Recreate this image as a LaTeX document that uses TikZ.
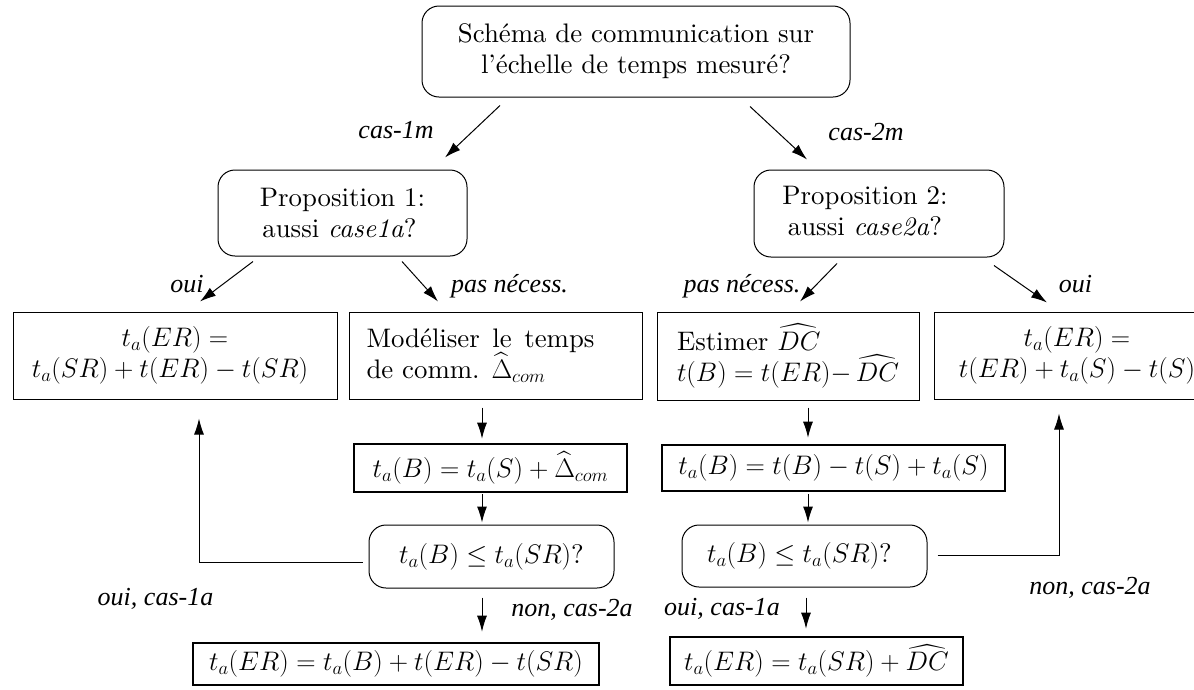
\RequirePackage{fix-cm}
\documentclass[tikz,border=0pt]{standalone}
\usepackage{amsmath}
\usepackage{fontspec}
\setmainfont{lmroman10-regular.otf}[ItalicFont=lmroman10-italic.otf, BoldFont=lmroman10-bold.otf]
\newfontfamily\lblfont{Liberation Serif}
\usetikzlibrary{arrows.meta,calc}
\tikzset{
  base/.style={font=\fontsize{26.8}{31}\selectfont, inner sep=0pt},
  rbox/.style={base, draw, rounded corners=17pt, line width=1pt},
  tbox/.style={base, draw, line width=1pt},
  kbox/.style={base, draw, line width=2.6pt},
  lbl/.style={font=\lblfont\itshape\fontsize{26}{30}\selectfont, inner sep=0pt},
  arr/.style={-{Latex[length=16pt,width=10pt]}, line width=1pt},
}
\begin{document}
\begin{tikzpicture}[x=1pt,y=-1pt]
\useasboundingbox (0,0) rectangle (1194,689);
% nodes
\node[rbox, minimum width=428pt, minimum height=91pt, align=center] (top) at (636,51.5)
  {Schéma de communication sur\\l’échelle de temps mesuré?};
\node[rbox, minimum width=249pt, minimum height=86pt, align=center] (p1) at (342.5,213)
  {Proposition 1:\\aussi \textit{case1a}?\hspace*{6pt}};
\node[rbox, minimum width=250pt, minimum height=87pt] (p2) at (879,213.5)
  {\begin{tabular}{@{}c@{}}Proposition 2:\\aussi \textit{case2a}?\end{tabular}\hspace*{28pt}};
\node[tbox, minimum width=324pt, minimum height=87pt, align=center] (A) at (175,355.5)
  {$t_a(ER) =$\\$t_a(SR) + t(ER) - t(SR)$\hspace*{10pt}};
\node[tbox, minimum width=293pt, minimum height=87pt] (B) at (495.5,355.5)
  {\parbox{228pt}{\baselineskip=31pt Modéliser le temps\linebreak de comm. $\widehat{\Delta}_{com}$}\hspace*{30pt}};
\node[tbox, minimum width=262pt, minimum height=88pt, text width=222pt, align=left] (C) at (788,356)
  {Estimer $\widehat{DC}$\\\mbox{$t(B) = t(ER){-}\,\widehat{DC}$}};
\node[tbox, minimum width=286pt, minimum height=87pt, align=center] (D) at (1077,355.5)
  {$t_a(ER) =$\\$t(ER) + t_a(S) - t(S)$};
\node[kbox, minimum width=273pt, minimum height=48pt] (E) at (490.5,468)
  {$t_a(B) = t_a(S) + \widehat{\Delta}_{com}$};
\node[kbox, minimum width=343pt, minimum height=46pt] (F) at (833.5,468)
  {$t_a(B) = t(B) - t(S) + t_a(S)$};
\node[rbox, minimum width=245pt, minimum height=63pt] (G) at (491.5,556.5)
  {$t_a(B) \le t_a(SR)$?};
\node[rbox, minimum width=245pt, minimum height=62pt] (H) at (804.5,556)
  {$t_a(B) \le t_a(SR)$?\hspace*{10pt}};
\node[kbox, minimum width=406pt, minimum height=42pt] (I) at (396,664)
  {$t_a(ER) = t_a(B) + t(ER) - t(SR)$};
\node[kbox, minimum width=293pt, minimum height=48pt] (J) at (816.5,661)
  {$t_a(ER) = t_a(SR) + \widehat{DC}$};
% labels
\node[lbl] (l1) at (396,130) {cas-1m};
\node[lbl] (l2) at (866,132) {cas-2m};
\node[lbl] (l3) at (187,284) {oui};
\node[lbl] (l4) at (509.5,286) {pas nécess.};
\node[lbl] (l5) at (742,286) {pas nécess.};
\node[lbl] (l6) at (1075.5,284) {oui};
\node[lbl] (l7) at (572,610) {non, cas-2a};
\node[lbl] (l8) at (155.5,599) {oui, cas-1a};
\node[lbl] (l9) at (722,609) {oui, cas-1a};
\node[lbl] (l10) at (1090,588) {non, cas-2a};
% connectors
\draw[arr] ($(top.south)+(-136,8)$) -- ($(p1.north)+(102.5,-12)$);
\draw[arr] ($(top.south)+(114,9)$) -- ($(p2.north)+(-72,-10)$);
\draw[arr] ($(p1.south)+(-89.5,5)$) -- ($(A.north)+(25,-10)$);
\draw[arr] ($(p1.south)+(59.5,5)$) -- ($(B.north)+(-57.5,-10)$);
\draw[arr] ($(p2.south)+(-42,6)$) -- ($(C.north)+(12,-10)$);
\draw[arr] ($(p2.south)+(115,8)$) -- ($(D.north)+(-30,-9)$);
\draw[arr] ($(B.south)+(-13.5,8)$) -- ($(E.north)+(-8.5,-4)$);
\draw[arr] ($(E.south)+(-8.5,1)$) -- ($(G.north)+(-9.5,-2)$);
\draw[arr] ($(G.south)+(-9.5,9)$) -- ($(I.north)+(86,-10)$);
\draw[arr] ($(C.south)+(20,7)$) -- ($(F.north)+(-25.5,-6)$);
\draw[arr] ($(F.south)+(-25.5,2)$) -- ($(H.north)+(3.5,-2)$);
\draw[arr] ($(H.south)+(1.5,10)$) -- ($(J.north)+(-10.5,-7)$);
\draw[arr] ($(G.west)+(-6,5.5)$) -| ($(A.south)+(24,19)$);
\draw[arr] ($(H.east)+(10,-1)$) -| ($(D.south)+(-18,14)$);
\end{tikzpicture}
\end{document}
